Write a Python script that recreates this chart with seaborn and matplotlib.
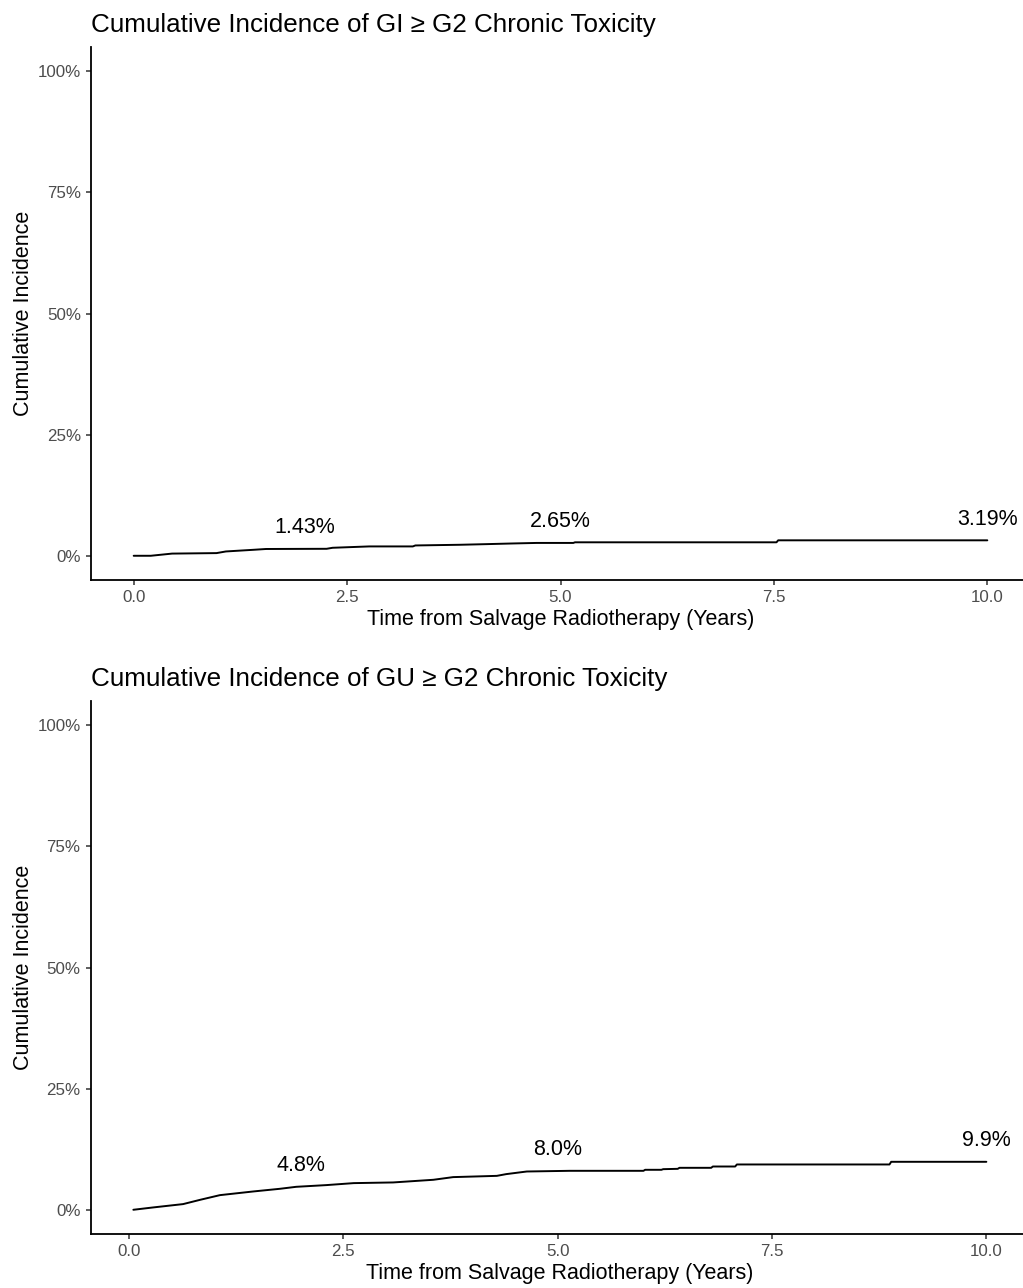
import matplotlib
matplotlib.use("Agg")
import matplotlib.pyplot as plt
import seaborn as sns
import pandas as pd
from matplotlib.ticker import FuncFormatter, FixedLocator

# ---------------- data ----------------
gi_time = [0.0, 0.20, 0.45, 0.97, 1.08, 1.40, 1.55, 2.26, 2.33, 2.76, 3.27, 3.30, 3.82, 4.13, 4.44,
           4.72, 5.15, 5.17, 7.53, 7.55, 10.0]
gi_ci = [0.0, 0.0, 0.45, 0.55, 0.89, 1.23, 1.40, 1.44, 1.65, 1.93, 1.93, 2.13, 2.27, 2.40, 2.54,
         2.65, 2.65, 2.78, 2.78, 3.19, 3.19]

gu_time = [0.05, 0.28, 0.63, 0.83, 1.06, 1.45, 1.76, 1.95, 2.30, 2.62, 3.08, 3.55, 3.78, 4.29, 4.40,
           4.64, 5.14, 6.00, 6.02, 6.21, 6.23, 6.40, 6.42, 6.79, 6.81, 7.07, 7.09, 8.87, 8.89, 10.0]
gu_ci = [0.0, 0.48, 1.17, 2.06, 3.02, 3.78, 4.33, 4.74, 5.09, 5.50, 5.64, 6.19, 6.74, 7.00, 7.36,
         7.90, 8.04, 8.04, 8.25, 8.25, 8.38, 8.45, 8.66, 8.66, 8.93, 8.93, 9.35, 9.35, 9.90, 9.90]

label_times = [2.0, 5.0, 10.0]
gi_label_vals = [1.43, 2.65, 3.19]
gi_label_text = ["1.43%", "2.65%", "3.19%"]
gu_label_vals = [4.8, 8.0, 9.9]
gu_label_text = ["4.8%", "8.0%", "9.9%"]

titles = ["Cumulative Incidence of GI \u2265 G2 Chronic Toxicity",
          "Cumulative Incidence of GU \u2265 G2 Chronic Toxicity"]
x_ticks = [0.0, 2.5, 5.0, 7.5, 10.0]
y_ticks = [0, 25, 50, 75, 100]
x_label = "Time from Salvage Radiotherapy (Years)"
y_label = "Cumulative Incidence"

# ---------------- style ----------------
sns.set_theme(style="ticks")
plt.rcParams["font.family"] = ["Liberation Sans", "DejaVu Sans"]

W, H = 1023, 1288
fig = plt.figure(figsize=(W / 100, H / 100), dpi=100)

panels = [
    dict(time=gi_time, ci=gi_ci, lv=gi_label_vals, lt=gi_label_text, title=titles[0],
         rect=[91 / W, 1 - 580 / H, (1030 - 91) / W, 533 / H]),
    dict(time=gu_time, ci=gu_ci, lv=gu_label_vals, lt=gu_label_text, title=titles[1],
         rect=[90.7 / W, 1 - 1234 / H, (1029 - 90.7) / W, 533 / H]),
]

for p in panels:
    ax = fig.add_axes(p["rect"])
    df = pd.DataFrame({"time": p["time"], "ci": p["ci"]})
    sns.lineplot(data=df, x="time", y="ci", ax=ax, color="black", linewidth=1.4,
                 estimator=None, sort=False)
    lo, hi = min(p["time"]), max(p["time"])
    rng = hi - lo
    ax.set_xlim(lo - 0.05 * rng, hi + 0.05 * rng)
    ax.set_ylim(-5, 105)
    ax.xaxis.set_major_locator(FixedLocator(x_ticks))
    ax.yaxis.set_major_locator(FixedLocator(y_ticks))
    ax.xaxis.set_major_formatter(FuncFormatter(lambda v, _: f"{v:.1f}"))
    ax.yaxis.set_major_formatter(FuncFormatter(lambda v, _: f"{v:.0f}%"))
    for t, v, s in zip(label_times, p["lv"], p["lt"]):
        ax.text(t, v + 4.35, s, ha="center", va="center", fontsize=15.5, color="black")
    for side in ["top", "right"]:
        ax.spines[side].set_visible(False)
    for side in ["left", "bottom"]:
        ax.spines[side].set_linewidth(1.3)
        ax.spines[side].set_color("black")
    ax.tick_params(axis="both", length=3.8, width=1.1, color="#333333",
                   labelsize=12.2, labelcolor="#4D4D4D", pad=3.5)
    ax.set_xlabel(x_label, fontsize=15.5, color="black", labelpad=3)
    ax.set_ylabel(y_label, fontsize=15.5, color="black", labelpad=2.5)
    ax.set_title(p["title"], loc="left", fontsize=18.7, color="black", pad=11)
    ax.grid(False)
    ax.set_facecolor("white")

fig.savefig("out.png", dpi=100, facecolor="white")
